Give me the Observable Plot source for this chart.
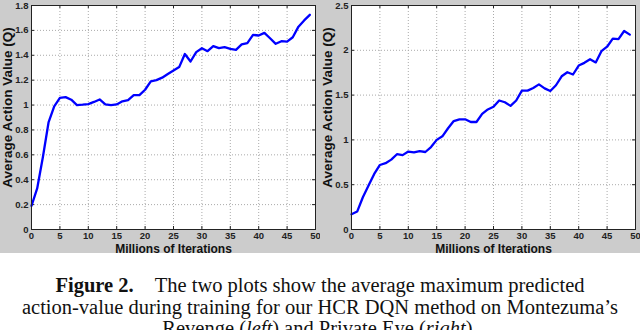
<!DOCTYPE html>
<html>
<head>
<meta charset="utf-8">
<script src="https://cdn.jsdelivr.net/npm/d3@7"></script>
<script src="https://cdn.jsdelivr.net/npm/@observablehq/plot@0.6"></script>
<style>
  html, body { margin: 0; padding: 0; background: #fff; }
  #figs { display: flex; width: 640px; height: 253px; background: #cccccc; overflow: hidden; }
  #figs svg { display: block; }
  #caption {
    width: 640px; padding-top: 22px; text-align: center;
    font-family: "Liberation Serif", "Times New Roman", serif;
    font-size: 20.5px; line-height: 21.5px; color: #111;
  }
  #caption b { margin-right: 21px; }
</style>
</head>
<body>
<div id="figs"></div>
<div id="caption"><b>Figure 2.</b>The two plots show the average maximum predicted<br>action-value during training for our HCR DQN method on Montezuma’s<br>Revenge (<i>left</i>) and Private Eye (<i>right</i>).</div>
<script>
const iterations = [0,1,2,3,4,5,6,7,8,9,10,11,12,13,14,15,16,17,18,19,20,21,22,23,24,25,26,27,28,29,30,31,32,33,34,35,36,37,38,39,40,41,42,43,44,45,46,47,48,49];
const montezumaQ = [0.19,0.33,0.58,0.86,0.99,1.058,1.064,1.043,1.0,1.003,1.008,1.025,1.045,1.005,1.0,1.005,1.03,1.04,1.08,1.08,1.123,1.19,1.2,1.22,1.25,1.278,1.305,1.41,1.35,1.425,1.457,1.433,1.473,1.457,1.465,1.452,1.444,1.487,1.497,1.564,1.559,1.58,1.537,1.492,1.513,1.51,1.545,1.63,1.68,1.725];
const privateEyeQ = [0.17,0.2,0.36,0.49,0.62,0.72,0.74,0.78,0.84,0.83,0.87,0.86,0.875,0.865,0.92,1.0,1.04,1.13,1.21,1.23,1.23,1.2,1.2,1.29,1.34,1.37,1.44,1.42,1.38,1.44,1.55,1.55,1.58,1.62,1.575,1.545,1.61,1.71,1.755,1.73,1.83,1.86,1.9,1.865,1.99,2.04,2.13,2.125,2.215,2.175];
const xTicks = [0,5,10,15,20,25,30,35,40,45,50];
const leftYTicks = [0,0.2,0.4,0.6,0.8,1,1.2,1.4,1.6,1.8];
const rightYTicks = [0,0.5,1,1.5,2,2.5];
const xLabel = "Millions of Iterations";
const yLabel = "Average Action Value (Q)";

function panel(values, yTicks, yMax) {
  const data = iterations.map((x, i) => ({x, q: values[i]}));
  const W = 320, H = 253, mt = 5, mb = 24, ml = 31, mr = 5;
  const ph = H - mt - mb, pw = W - ml - mr;
  return Plot.plot({
    width: W, height: H,
    marginTop: mt, marginBottom: mb, marginLeft: ml, marginRight: mr,
    style: {background: "transparent", fontFamily: "Liberation Sans, Arial, sans-serif", color: "#111"},
    x: {domain: [0, 50]},
    y: {domain: [0, yMax]},
    marks: [
      Plot.frame({fill: "#fff"}),
      Plot.gridX(xTicks, {stroke: "#aaa", strokeOpacity: 1, strokeDasharray: "1,2"}),
      Plot.gridY(yTicks, {stroke: "#aaa", strokeOpacity: 1, strokeDasharray: "1,2"}),
      Plot.tickX(xTicks, {x: d => d, insetTop: ph - 3, stroke: "#222"}),
      Plot.tickX(xTicks, {x: d => d, insetBottom: ph - 3, stroke: "#222"}),
      Plot.tickY(yTicks, {y: d => d, insetRight: pw - 3, stroke: "#222"}),
      Plot.tickY(yTicks, {y: d => d, insetLeft: pw - 3, stroke: "#222"}),
      Plot.axisX(xTicks, {tickSize: 0, tickPadding: 3, fontSize: 9.5, fontWeight: "bold", fill: "#222", label: null}),
      Plot.axisY(yTicks, {tickSize: 0, tickPadding: 3, fontSize: 9.5, fontWeight: "bold", fill: "#222", label: null, tickFormat: d => String(d)}),
      Plot.line(data, {x: "x", y: "q", stroke: "#0000ff", strokeWidth: 2.3}),
      Plot.frame({stroke: "#222", strokeWidth: 1}),
      Plot.text([xLabel], {text: d => d, frameAnchor: "bottom", textAnchor: "middle", dy: 23, lineAnchor: "bottom", fontSize: 12, fontWeight: "bold", fill: "#111"}),
      Plot.text([yLabel], {text: d => d, frameAnchor: "left", textAnchor: "middle", dx: -24, dy: -10, rotate: -90, fontSize: 13.5, fontWeight: "bold", fill: "#111"})
    ]
  });
}

const figs = document.getElementById("figs");
figs.appendChild(panel(montezumaQ, leftYTicks, 1.8));
figs.appendChild(panel(privateEyeQ, rightYTicks, 2.5));
</script>
</body>
</html>
